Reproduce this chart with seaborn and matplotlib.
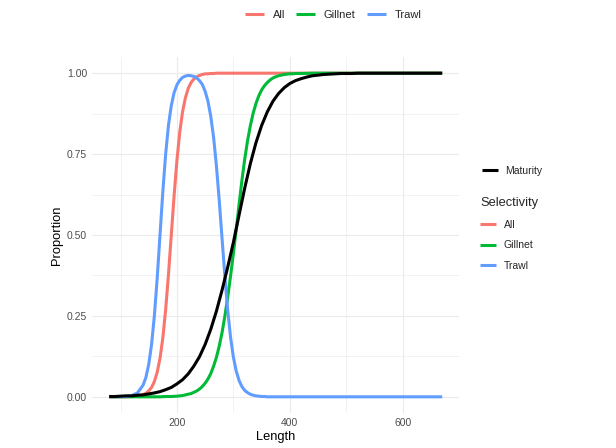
import matplotlib
matplotlib.use("Agg")
import matplotlib.pyplot as plt
import pandas as pd
import seaborn as sns
from matplotlib.lines import Line2D

# ---- data ----
all_len = [80, 100, 110, 120, 130, 140, 145, 150, 155, 160, 165, 170, 175, 180, 185, 190,
           195, 200, 205, 210, 215, 220, 225, 230, 235, 240, 245, 250, 255, 260, 265, 270, 670]
all_val = [0.000, 0.000, 0.000, 0.001, 0.002, 0.007, 0.011, 0.018, 0.029, 0.047, 0.076, 0.119,
           0.182, 0.269, 0.378, 0.500, 0.622, 0.731, 0.818, 0.881, 0.924, 0.953, 0.971, 0.982,
           0.989, 0.993, 0.996, 0.998, 0.998, 0.999, 0.999, 1.000, 1.000]

gill_len = [80, 150, 160, 170, 180, 190, 200, 210, 215, 220, 225, 230, 235, 240, 245, 250, 255,
            260, 265, 270, 275, 280, 285, 290, 295, 300, 305, 310, 315, 320, 325, 330, 335, 340,
            345, 350, 355, 360, 365, 370, 375, 380, 385, 390, 395, 400, 405, 410, 415, 420, 440, 670]
gill_val = [0.000, 0.000, 0.000, 0.000, 0.001, 0.001, 0.002, 0.004, 0.006, 0.008, 0.010, 0.014,
            0.018, 0.024, 0.032, 0.042, 0.055, 0.072, 0.095, 0.122, 0.157, 0.199, 0.250, 0.308,
            0.373, 0.443, 0.516, 0.593, 0.667, 0.733, 0.790, 0.837, 0.876, 0.906, 0.930, 0.948,
            0.961, 0.971, 0.979, 0.985, 0.989, 0.992, 0.994, 0.996, 0.997, 0.998, 0.998, 0.999,
            0.999, 0.999, 1.000, 1.000]

trawl_len = [80, 100, 110, 120, 130, 140, 145, 150, 155, 160, 165, 170, 175, 180, 185, 190, 195,
             200, 205, 210, 215, 220, 225, 230, 235, 240, 245, 250, 255, 260, 265, 270, 275, 280,
             285, 290, 295, 300, 305, 310, 315, 320, 325, 330, 335, 340, 345, 350, 355, 360, 365,
             370, 670]
trawl_val = [0.000, 0.001, 0.001, 0.004, 0.012, 0.036, 0.060, 0.100, 0.161, 0.250, 0.366, 0.500,
             0.634, 0.750, 0.839, 0.900, 0.940, 0.964, 0.978, 0.987, 0.991, 0.993, 0.992, 0.990,
             0.985, 0.977, 0.965, 0.944, 0.913, 0.866, 0.801, 0.713, 0.606, 0.488, 0.371, 0.267,
             0.184, 0.123, 0.080, 0.051, 0.032, 0.020, 0.013, 0.008, 0.005, 0.003, 0.002, 0.001,
             0.001, 0.000, 0.000, 0.000, 0.000]

mat_len = [80, 90, 100, 110, 120, 130, 140, 150, 160, 170, 180, 190, 200, 210, 220, 230, 240,
           250, 260, 270, 280, 290, 300, 310, 320, 330, 340, 350, 360, 370, 380, 390, 400, 410,
           420, 430, 440, 450, 460, 470, 480, 490, 500, 510, 520, 670]
mat_val = [0.001, 0.001, 0.002, 0.003, 0.003, 0.005, 0.006, 0.009, 0.012, 0.016, 0.022, 0.029,
           0.040, 0.053, 0.071, 0.095, 0.124, 0.162, 0.209, 0.265, 0.330, 0.401, 0.477, 0.561,
           0.644, 0.720, 0.785, 0.838, 0.880, 0.913, 0.937, 0.955, 0.968, 0.977, 0.983, 0.988,
           0.992, 0.994, 0.996, 0.997, 0.998, 0.999, 0.999, 0.999, 1.000, 1.000]

sel_names = ["All", "Gillnet", "Trawl"]
sel_colors = ["#F8766D", "#00BA38", "#619CFF"]
x_ticks = [200, 400, 600]
y_ticks = [0.0, 0.25, 0.5, 0.75, 1.0]
y_tick_labels = ["0.00", "0.25", "0.50", "0.75", "1.00"]

sel_df = pd.concat([
    pd.DataFrame({"Length": all_len, "Proportion": all_val, "Selectivity": "All"}),
    pd.DataFrame({"Length": gill_len, "Proportion": gill_val, "Selectivity": "Gillnet"}),
    pd.DataFrame({"Length": trawl_len, "Proportion": trawl_val, "Selectivity": "Trawl"}),
], ignore_index=True)
mat_df = pd.DataFrame({"Length": mat_len, "Proportion": mat_val})

sns.set_theme(style="white")
plt.rcParams["font.family"] = ["Liberation Sans", "DejaVu Sans"]

W, H = 616, 448
fig = plt.figure(figsize=(W / 100, H / 100), dpi=100)
ax = fig.add_axes([92 / W, 35 / H, 367.4 / W, 356 / H])

LW = 2.2
sns.lineplot(data=sel_df, x="Length", y="Proportion", hue="Selectivity",
             hue_order=sel_names, palette=dict(zip(sel_names, sel_colors)),
             estimator=None, sort=True, lw=LW, legend=False, ax=ax,
             solid_capstyle="butt")
sns.lineplot(data=mat_df, x="Length", y="Proportion", color="black",
             estimator=None, lw=LW, legend=False, ax=ax, solid_capstyle="butt")

ax.set_xlim(49.5, 700.5)
ax.set_ylim(-0.05, 1.05)
ax.set_xticks(x_ticks)
ax.set_xticks([100, 300, 500, 700], minor=True)
ax.set_yticks(y_ticks)
ax.set_yticklabels(y_tick_labels)
ax.set_yticks([0.125, 0.375, 0.625, 0.875], minor=True)
ax.grid(which="major", color="#EBEBEB", lw=0.8)
ax.grid(which="minor", color="#EBEBEB", lw=0.45)
ax.set_axisbelow(True)
for s in ax.spines.values():
    s.set_visible(False)
ax.tick_params(which="both", length=0, labelsize=7.5, labelcolor="#4D4D4D", pad=3.5)
ax.set_xlabel("Length", fontsize=9.3, color="black", labelpad=2)
ax.set_ylabel("Proportion", fontsize=9.3, color="black", labelpad=3)

def h(c):
    return Line2D([], [], color=c, lw=LW, solid_capstyle="butt")

fig.legend(handles=[h(c) for c in sel_colors], labels=sel_names, loc="center",
           bbox_to_anchor=(333 / W, 1 - 15 / H), ncol=3, frameon=False, fontsize=8,
           handlelength=1.7, handletextpad=0.8, columnspacing=1.0, borderpad=0)

fig.legend(handles=[h("black")], labels=["Maturity"], loc="center left",
           bbox_to_anchor=(482 / W, 1 - 171 / H), frameon=False, fontsize=7.5,
           handlelength=1.5, handletextpad=0.7, borderpad=0, borderaxespad=0)

leg2 = fig.legend(handles=[h(c) for c in sel_colors], labels=sel_names, loc="upper left",
                  bbox_to_anchor=(480 / W, 1 - 197 / H), frameon=False, fontsize=7.5,
                  title="Selectivity", title_fontsize=9.3, alignment="left",
                  handlelength=1.5, handletextpad=0.8, labelspacing=1.02,
                  borderpad=0, borderaxespad=0)

fig.savefig("out.png", dpi=100, facecolor="white")
